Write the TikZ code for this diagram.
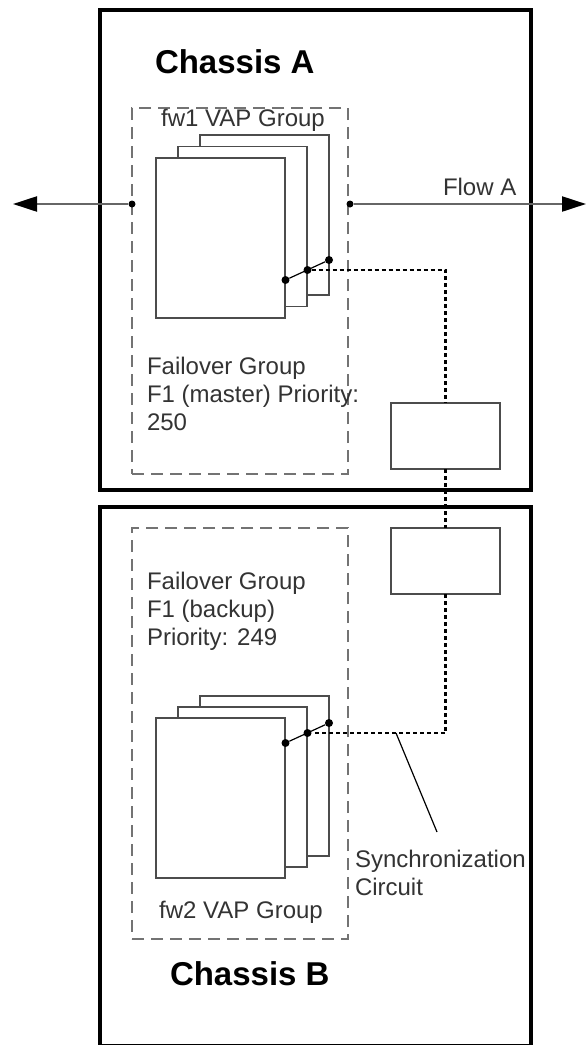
\documentclass[tikz,border=0pt]{standalone}
\usepackage{fontspec}
\setmainfont{Liberation Sans}
\usetikzlibrary{arrows.meta,calc}
\begin{document}
\begin{tikzpicture}[x=1pt,y=-1pt,
  chassis/.style={draw=black,line width=4.5pt,inner sep=0pt,outer sep=0pt,anchor=north west},
  group/.style={draw=black!55,line width=2.2pt,dash pattern=on 12pt off 7pt,inner sep=0pt,outer sep=0pt,anchor=north west},
  card/.style={draw=black!70,line width=1.8pt,fill=white,inner sep=0pt,outer sep=0pt,anchor=north west,minimum width=129pt,minimum height=160pt},
  syncbox/.style={draw=black!70,line width=1.8pt,fill=white,inner sep=0pt,outer sep=0pt,anchor=north west,minimum width=109pt,minimum height=66pt},
  dot/.style={circle,fill=black,inner sep=0pt,minimum size=8pt},
  fdot/.style={circle,fill=black,inner sep=0pt,minimum size=7pt},
  lbl/.style={inner sep=0pt,outer sep=0pt,text=black!80,font=\fontsize{24}{28}\selectfont},
  title/.style={inner sep=0pt,outer sep=0pt,text=black,font=\fontsize{33}{36}\selectfont\bfseries},
  flow/.style={draw=black!60,line width=2.2pt,arrows={-{Triangle[length=24pt,width=15pt,color=black]}}},
  syncline/.style={draw=black,line width=2.2pt,dash pattern=on 4pt off 3pt},
  link/.style={draw=black,line width=1.2pt},
]
\useasboundingbox (0,0) rectangle (586,1045);
\fill[white] (0,0) rectangle (586,1045);

% chassis boxes
\node[chassis,minimum width=431pt,minimum height=480pt] (chA) at (100,10) {};
\node[chassis,minimum width=431pt,minimum height=539pt] (chB) at (100,507) {};

% VAP groups
\node[group,minimum width=216pt,minimum height=366pt] (gA) at (132,108) {};
\node[group,minimum width=216pt,minimum height=411pt] (gB) at (132,528) {};

% titles
\node[title,anchor=base west] (tA) at (155,73) {Chassis A};
\node[title,anchor=base west] (tB) at (170,985) {Chassis B};

\node[lbl,anchor=base] (vA) at (243,126) {fw1 VAP Group};
\node[lbl,anchor=base] (vB) at (241,918) {fw2 VAP Group};

% card stacks A
\node[card] (cA3) at (200,135) {};
\node[card] (cA2) at (178,146.5) {};
\node[card] (cA1) at (156,158) {};
% card stacks B
\node[card] (cB3) at (200,696) {};
\node[card] (cB2) at (178,707) {};
\node[card] (cB1) at (156,718) {};

% sync boxes
\node[syncbox] (sA) at (391,403) {};
\node[syncbox] (sB) at (391,528) {};

% dots
\node[dot] (dA1) at (285.5,280) {};
\node[dot] (dA2) at (307.5,270) {};
\node[dot] (dA3) at (329,260) {};
\node[dot] (dB1) at (285.5,743) {};
\node[dot] (dB2) at (307.5,733) {};
\node[dot] (dB3) at (329,723) {};

% sync circuit
\draw[syncline] (dA2) -- (dA2 -| sA.north) -- (sA.north);
\draw[syncline] (sA.south) -- (sB.north);
\draw[syncline] (sB.south) -- (sB.south |- dB2) -- (dB2);
\draw[link] (dA1) -- (dA3);
\draw[link] (dB1) -- (dB3);

% flow
\node[fdot] (fL) at (132,204) {};
\node[fdot] (fR) at (350,204) {};
\coordinate (tipL) at (13,204);
\coordinate (tipR) at (586,204);
\draw[flow] (fL) -- (tipL);
\draw[flow] (fR) -- (tipR);
\node[lbl,anchor=base west] (flowA) at (443,195) {Flow A};

% failover labels
\node[lbl,anchor=base west] (fa1) at (147,374) {Failover Group};
\node[lbl,anchor=base west] (fa2) at (147,402) {F1 (master) Priority:};
\node[lbl,anchor=base west] (fa3) at (147,430) {250};
\node[lbl,anchor=base west] (fb1) at (147,589) {Failover Group};
\node[lbl,anchor=base west] (fb2) at (147,617) {F1 (backup)};
\node[lbl,anchor=base west] (fb3) at (147,645) {Priority: 249};

% synchronization label
\coordinate (pS) at (396,733);
\coordinate (pE) at (437,832);
\draw[link] (pS) -- (pE);
\node[lbl,anchor=base west] (sy1) at (355,867) {Synchronization};
\node[lbl,anchor=base west] (sy2) at (355,895) {Circuit};
\end{tikzpicture}
\end{document}
